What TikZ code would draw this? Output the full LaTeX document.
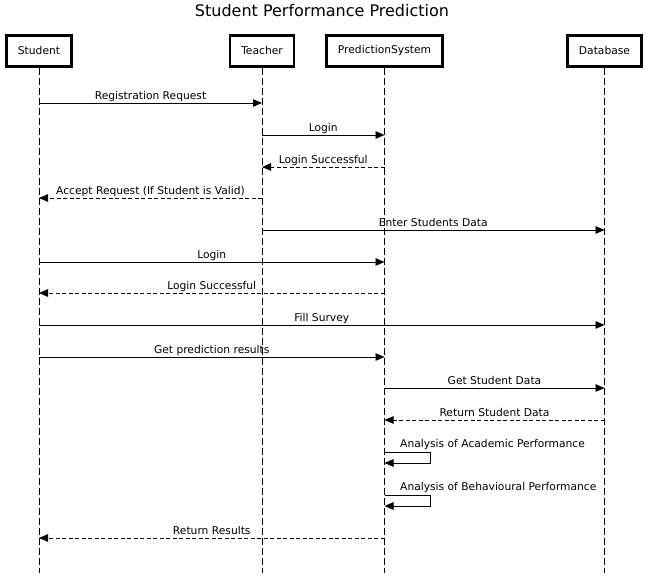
\documentclass[tikz,border=0pt]{standalone}
\usepackage{fontspec}
\setmainfont{DejaVu Sans}
\usepackage{tikz}
\usetikzlibrary{arrows.meta}

\begin{document}
\begin{tikzpicture}[x=1pt, y=-1pt,
  actor/.style={draw, line width=2.2pt, inner xsep=11.5pt, minimum height=31pt, font=\fontsize{10.7}{13}\selectfont},
  life/.style={line width=0.9pt, dash pattern=on 7pt off 3pt},
  msg/.style={line width=0.9pt, -{Triangle[length=9pt, width=7.5pt]}},
  reply/.style={msg, dash pattern=on 4pt off 2.5pt},
  txt/.style={font=\fontsize{10.7}{13}\selectfont, inner sep=0pt},
  lbl/.style={txt, anchor=base, yshift=3.5pt}]
  \useasboundingbox (0,0) rectangle (648,577);
  \node[font=\fontsize{16}{19}\selectfont, anchor=base] (title) at (322,17) {Student Performance Prediction};
  % participants
  \node[actor] (student) at (39,51) {Student};
  \node[actor] (teacher) at (262,51) {Teacher};
  \node[actor] (psys) at (384.5,51) {PredictionSystem};
  \node[actor] (db) at (604.5,51) {Database};
  % lifelines
  \draw[life] (student.south) -- (student |- 0,573);
  \draw[life] (teacher.south) -- (teacher |- 0,573);
  \draw[life] (psys.south) -- (psys |- 0,573);
  \draw[life] (db.south) -- (db |- 0,573);
  % messages
  \draw[msg] (student |- 0,103) -- (teacher |- 0,103) node[lbl, midway] (l1) {Registration Request};
  \draw[msg] (teacher |- 0,135) -- (psys |- 0,135) node[lbl, midway] (l2) {Login};
  \draw[reply] (psys |- 0,167) -- (teacher |- 0,167) node[lbl, midway] (l3) {Login Successful};
  \draw[reply] (teacher |- 0,198) -- (student |- 0,198) node[lbl, midway] (l4) {Accept Request (If Student is Valid)};
  \draw[msg] (teacher |- 0,230) -- (db |- 0,230) node[lbl, midway] (l5) {Enter Students Data};
  \draw[msg] (student |- 0,262) -- (psys |- 0,262) node[lbl, midway] (l6) {Login};
  \draw[reply] (psys |- 0,293) -- (student |- 0,293) node[lbl, midway] (l7) {Login Successful};
  \draw[msg] (student |- 0,325) -- (db |- 0,325) node[lbl, midway] (l8) {Fill Survey};
  \draw[msg] (student |- 0,357) -- (psys |- 0,357) node[lbl, midway] (l9) {Get prediction results};
  \draw[msg] (psys |- 0,388) -- (db |- 0,388) node[lbl, midway] (l10) {Get Student Data};
  \draw[reply] (db |- 0,420) -- (psys |- 0,420) node[lbl, midway] (l11) {Return Student Data};
  % self calls
  \draw[msg] (psys |- 0,452) -- ++(46,0) -- ++(0,11) -- (psys |- 0,463);
  \node[txt, anchor=base west] (l12) at (400,447) {Analysis of Academic Performance};
  \draw[msg] (psys |- 0,495) -- ++(46,0) -- ++(0,11) -- (psys |- 0,506);
  \node[txt, anchor=base west] (l13) at (400,490) {Analysis of Behavioural Performance};
  \draw[reply] (psys |- 0,538) -- (student |- 0,538) node[lbl, midway] (l14) {Return Results};
\end{tikzpicture}
\end{document}
